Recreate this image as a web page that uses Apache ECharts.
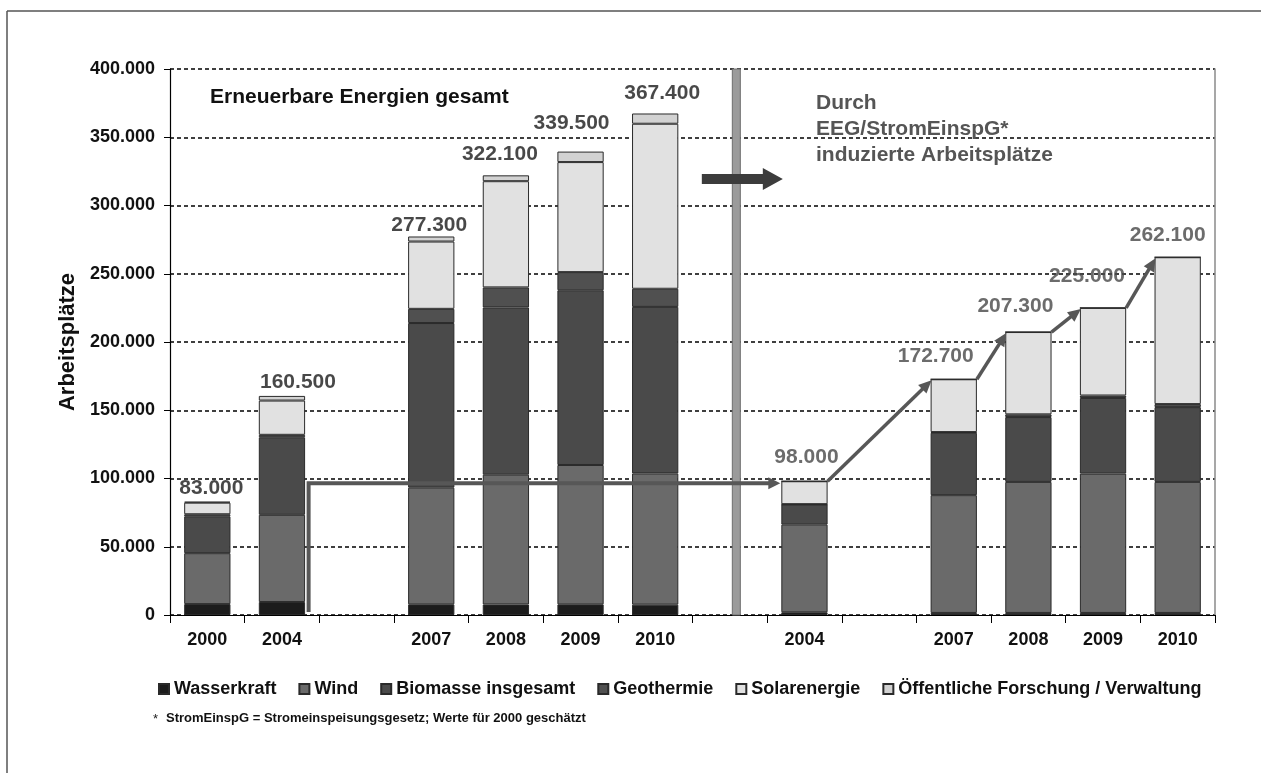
<!DOCTYPE html>
<html>
<head>
<meta charset="utf-8">
<script src="https://cdn.jsdelivr.net/npm/echarts@6/dist/echarts.min.js"></script>
<style>
html,body{margin:0;padding:0;background:#fff;}
#chart{width:1261px;height:773px;}
</style>
</head>
<body>
<div id="chart"></div>
<script>
// ---- data ----
const categories = ['2000','2004','','2007','2008','2009','2010','','2004','','2007','2008','2009','2010'];
const wasserkraft = [8000, 9500, null, 7800, 7700, 7800, 7600, null, 2000, null, 1500, 1500, 1500, 1500];
const wind        = [37300, 63900, null, 85500, 95100, 102100, 96100, null, 64200, null, 86300, 96000, 102100, 96000];
const biomasse    = [27000, 56800, null, 120600, 122500, 128000, 122000, null, 14800, null, 45700, 47500, 55400, 54800];
const geothermie  = [1500, 1800, null, 10400, 14700, 13300, 13300, null, 200, null, 500, 2000, 1800, 2200];
const solar       = [8500, 25100, null, 49300, 77800, 80600, 120900, null, 16800, null, 38700, 60300, 64200, 107600];
const forschung   = [700, 3400, null, 3700, 4300, 7700, 7500, null, 0, null, 0, 0, 0, 0];
const totals      = [83000, 160500, null, 277300, 322100, 339500, 367400, null, 98000, null, 172700, 207300, 225000, 262100];
const yTicks = [0, 50000, 100000, 150000, 200000, 250000, 300000, 350000, 400000];
const eegStart = 1, eegEnd = 8;            // EEG arrow: from 2004 (total) to 2004 (EEG)
const eegChain = [8, 10, 11, 12, 13];      // arrows between EEG bars

// ---- styling (not data) ----
const labelOffsets = [[4,-14],[16,-14],null,[-2,-11],[-6,-21],[-9,-28],[7,-20],null,[2,-24],null,[-18,-23],[-13,-26],[-16,-32],[-10,-22]];
const FONT = '"Liberation Sans", Arial, sans-serif';
const fmt = v => String(v).replace(/\B(?=(\d{3})+(?!\d))/g, '.');

const seriesDefs = [
  ['Wasserkraft', wasserkraft, '#1c1c1c'],
  ['Wind', wind, '#6a6a6a'],
  ['Biomasse insgesamt', biomasse, '#4a4a4a'],
  ['Geothermie', geothermie, '#505050'],
  ['Solarenergie', solar, '#e1e1e1'],
  ['Öffentliche Forschung / Verwaltung', forschung, '#d2d2d2']
];

const chart = echarts.init(document.getElementById('chart'), null, {renderer:'canvas'});

const series = seriesDefs.map(([name, data, color]) => ({
  name, type:'bar', stack:'total', data,
  barCategoryGap:'38%',
  itemStyle:{color, borderColor:'#2a2a2a', borderWidth:1},
  emphasis:{disabled:true}
}));
series.push({
  name:'Summe', type:'scatter', symbolSize:1,
  itemStyle:{color:'rgba(0,0,0,0)'},
  z:10,
  data: totals.map((v,i)=> v==null ? null : {
    value:v,
    label:{show:true, position:'inside', offset:labelOffsets[i], color: i>=eegEnd ? '#474747' : '#1a1a1a',
      formatter: p => fmt(p.value), fontFamily:FONT, fontWeight:'bold', fontSize:21}
  }),
  emphasis:{disabled:true}
});

chart.setOption({
  animation:false,
  backgroundColor:'#fff',
  grid:{left:170, right:46, top:69, bottom:158, containLabel:false},
  legend:{
    data: seriesDefs.map(d=>d[0]),
    left:153, top:675, itemWidth:10, itemHeight:10, itemGap:22,
    icon:'rect',
    textStyle:{fontFamily:FONT, fontWeight:'bold', fontSize:18, color:'#111'},
    selectedMode:false
  },
  xAxis:{
    type:'category', data:categories,
    axisLine:{lineStyle:{color:'#000', width:1.2}},
    axisTick:{show:true, interval:0, length:8, lineStyle:{color:'#000'}},
    axisLabel:{interval:0, margin:16, fontFamily:FONT, fontWeight:'bold', fontSize:18, color:'#111'}
  },
  yAxis:[{
    type:'value', min:0, max:400000, interval:50000,
    name:'Arbeitsplätze', nameLocation:'middle', nameGap:88,
    nameTextStyle:{fontFamily:FONT, fontWeight:'bold', fontSize:22, color:'#111'},
    axisLine:{show:true, lineStyle:{color:'#000', width:1.2}},
    axisTick:{show:true, length:6, lineStyle:{color:'#000'}},
    axisLabel:{margin:15, fontFamily:FONT, fontWeight:'bold', fontSize:18, color:'#111',
      formatter: v => yTicks.indexOf(v) >= 0 ? fmt(v) : ''},
    splitLine:{show:true, lineStyle:{color:'#000', width:1.6, type:[4,3]}}
  },{
    type:'value', min:0, max:400000, interval:50000, position:'right',
    axisLine:{show:true, lineStyle:{color:'#8a8a8a', width:1.5}},
    axisTick:{show:false}, axisLabel:{show:false}, splitLine:{show:false}
  }],
  series
});

// ---- annotations positioned through the chart's scales ----
const px = (i, v) => chart.convertToPixel({xAxisIndex:0, yAxisIndex:0}, [i, v]);
const catW = px(1,0)[0] - px(0,0)[0];
const bw = catW * 0.62;
const y0 = px(0,0)[1], yTop = px(0,400000)[1];
const LINE = '#575757';

function head(tip, from, len, hw, color){
  const dx = tip[0]-from[0], dy = tip[1]-from[1], L = Math.hypot(dx,dy);
  const ux = dx/L, uy = dy/L, bx = tip[0]-ux*len, by = tip[1]-uy*len;
  return {type:'polygon', z:20, shape:{points:[tip,[bx-uy*hw, by+ux*hw],[bx+uy*hw, by-ux*hw]]}, style:{fill:color}};
}

const g = [];
// outer frame (top + left)
g.push({type:'line', shape:{x1:7, y1:11, x2:1261, y2:11}, style:{stroke:'#555', lineWidth:1.5}});
g.push({type:'line', shape:{x1:7, y1:11, x2:7, y2:773}, style:{stroke:'#555', lineWidth:1.5}});

// separator between total and EEG-induced parts
const cSep = px(7,0)[0] + 6.5;
g.push({type:'rect', z:15, shape:{x:cSep-4, y:yTop, width:8, height:y0-yTop}, style:{fill:'#9b9b9b', stroke:'#6e6e6e', lineWidth:1}});

// EEG arrow from 2004 total bar to 2004 EEG bar
const xs = px(eegStart,0)[0] + bw/2 + 3.5;
const yv = px(eegEnd, totals[eegEnd])[1] + 2;
const xe = px(eegEnd,0)[0] - bw/2 - 1;
g.push({type:'polyline', z:18, shape:{points:[[xs, y0-3],[xs, yv],[xe-10, yv]]}, style:{stroke:LINE, lineWidth:4, fill:null}});
g.push(head([xe, yv], [xe-20, yv], 12, 6, LINE));

// chain arrows between EEG bars
for (let k=0; k<eegChain.length-1; k++){
  const a = eegChain[k], b = eegChain[k+1];
  const p1 = [px(a,0)[0] + bw/2, px(a, totals[a])[1]];
  const p2 = [px(b,0)[0] - bw/2 + 1, px(b, totals[b])[1] + 1];
  const dx = p2[0]-p1[0], dy = p2[1]-p1[1], L = Math.hypot(dx,dy);
  const q = [p2[0]-dx/L*9, p2[1]-dy/L*9];
  g.push({type:'line', z:18, shape:{x1:p1[0], y1:p1[1], x2:q[0], y2:q[1]}, style:{stroke:LINE, lineWidth:3.5}});
  g.push(head(p2, p1, 13, 6, LINE));
}

// thick arrow
const ya = px(7, 319500)[1];
const c7 = px(7,0)[0];
g.push({type:'polygon', z:16, shape:{points:[
  [c7-28, ya-5],[c7+33, ya-5],[c7+33, ya-11],[c7+53, ya],[c7+33, ya+11],[c7+33, ya+5],[c7-28, ya+5]
]}, style:{fill:'#3c3c3c'}});

// texts
g.push({type:'text', z:20, x:210, y:97, style:{text:'Erneuerbare Energien gesamt', fill:'#111', font:'bold 21px '+FONT, verticalAlign:'middle'}});
g.push({type:'text', z:20, x:816, y:90, style:{text:'Durch\nEEG/StromEinspG*\ninduzierte Arbeitsplätze', fill:'#555', font:'bold 21px '+FONT, lineHeight:26, verticalAlign:'top'}});
g.push({type:'text', z:20, x:153, y:719, style:{text:'*', fill:'#222', font:'13px '+FONT, verticalAlign:'middle'}});
g.push({type:'text', z:20, x:166, y:718, style:{text:'StromEinspG = Stromeinspeisungsgesetz; Werte für 2000 geschätzt', fill:'#111', font:'bold 13px '+FONT, verticalAlign:'middle'}});

chart.setOption({graphic:g});
</script>
</body>
</html>
